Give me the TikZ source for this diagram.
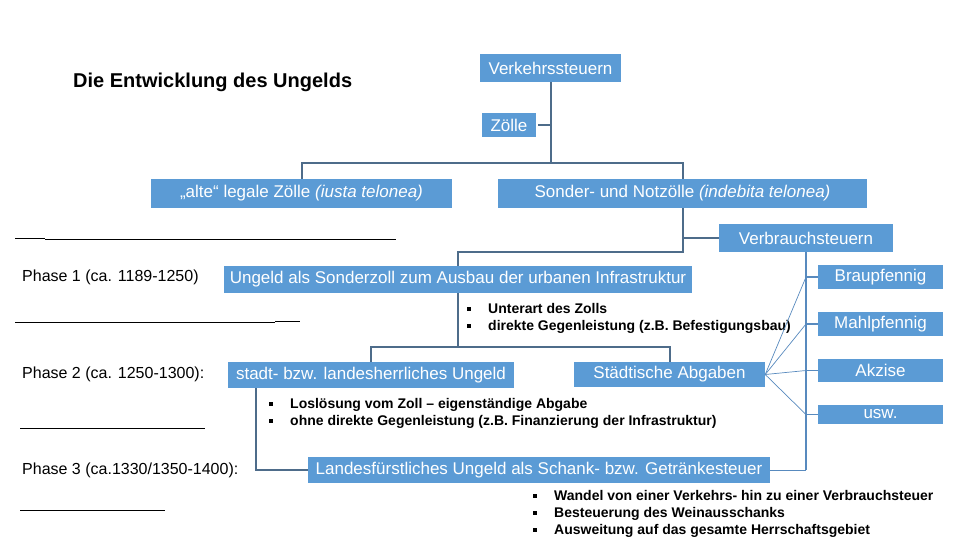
\documentclass[tikz,border=0pt]{standalone}
\usepackage{fontspec}
\setmainfont{Liberation Sans}
\usetikzlibrary{positioning,calc}
\definecolor{boxblue}{RGB}{91,155,213}
\definecolor{treeline}{RGB}{78,108,138}
\definecolor{sideline}{RGB}{88,138,190}
\newcommand{\bul}{\makebox[21pt][l]{\raisebox{2.5pt}{\rule{4pt}{4pt}}}}

\begin{document}
\begin{tikzpicture}[x=1pt,y=-1pt,
    box/.style={fill=boxblue,text=white,inner sep=0pt,font=\fontsize{17}{17}\selectfont},
    tree/.style={draw=treeline,line width=2pt},
    side/.style={draw=sideline,line width=1.6pt},
    fan/.style={draw=sideline,line width=0.7pt},
    phase/.style={anchor=west,inner sep=0pt,font=\fontsize{16}{16}\selectfont},
    notes/.style={anchor=west,inner sep=0pt,align=left,font=\bfseries\fontsize{14}{17}\selectfont},
    blank/.style={draw=black,line width=0.8pt}]
    \useasboundingbox (0,0) rectangle (960,540);
    \node[anchor=base west,inner sep=0pt,font=\bfseries\fontsize{20}{20}\selectfont] (title) at (73,88) {Die Entwicklung des Ungelds};
    % tree boxes
    \node[box,minimum width=141pt,minimum height=28pt] (verk) at (550.5,68) {Verkehrssteuern};
    \node[box,minimum width=54pt,minimum height=24pt] (zoll) at (509,125) {Zölle};
    \node[box,minimum width=301pt,minimum height=29pt] (alte) at (301.5,193.5) {„alte“ legale Zölle \textit{(iusta telonea)}};
    \node[box,minimum width=369pt,minimum height=29pt] (sonder) at (682.5,193.5) {Sonder- und Notzölle \textit{(indebita telonea)}};
    \node[box,minimum width=174pt,minimum height=28pt] (verbr) at (806,238) {Verbrauchsteuern};
    \node[box,minimum width=468pt,minimum height=27pt] (sonderzoll) at (458,279.5) {Ungeld als Sonderzoll zum Ausbau der urbanen Infrastruktur};
    \node[box,minimum width=286pt,minimum height=26pt] (stadt) at (371,375) {stadt- bzw. landesherrliches Ungeld};
    \node[box,minimum width=191pt,minimum height=25pt] (staedt) at (669.5,374.5) {Städtische Abgaben};
    \node[box,minimum width=462pt,minimum height=26pt] (landes) at (539,470) {Landesfürstliches Ungeld als Schank- bzw. Getränkesteuer};
    \foreach \n/\y/\h/\t in {brau/277/24/Braupfennig, mahl/324/24/Mahlpfennig, akz/370.5/23/Akzise, usw/414.5/19/usw.}{
      \node[box,minimum width=125pt,minimum height=\h pt] (\n) at (880.5,\y) {\t};
    }
    % phases
    \node[phase] (ph1) at (22,277) {Phase 1 (ca. 1189-1250)};
    \node[phase] (ph2) at (22,374) {Phase 2 (ca. 1250-1300):};
    \node[phase] (ph3) at (22,470) {Phase 3 (ca.1330/1350-1400):};
    \draw[blank] (15,238) -- (45,238); \draw[blank] (45,239) -- (396,239);
    \draw[blank] (15,322) -- (275,322); \draw[blank] (275,321) -- (300,321);
    \draw[blank] (20,428) -- (113,428); \draw[blank] (113,428) -- (205,428);
    \draw[blank] (20,510) -- (165,510);
    % notes
    \node[notes] (n1) at (467,318) {\bul Unterart des Zolls\\\bul direkte Gegenleistung (z.B. Befestigungsbau)};
    \node[notes] (n2) at (269,413) {\bul Loslösung vom Zoll – eigenständige Abgabe\\\bul ohne direkte Gegenleistung (z.B. Finanzierung der Infrastruktur)};
    \node[notes] (n3) at (533,513.5) {\bul Wandel von einer Verkehrs- hin zu einer Verbrauchsteuer\\\bul Besteuerung des Weinausschanks\\\bul Ausweitung auf das gesamte Herrschaftsgebiet};
    % connectors
    \coordinate (k1) at (550.5,163);
    \coordinate (k2) at (682.5,252);
    \coordinate (k3) at (458,347);
    \draw[tree] (verk.south) -- (k1);
    \draw[tree,shorten <=2pt] (zoll.east) -- (zoll.east -| k1);
    \draw[tree] (alte.north) |- (k1) -| (sonder.north);
    \draw[tree] (sonder.south) -- (k2) -| (sonderzoll.north);
    \draw[tree] (sonder.south |- verbr.west) -- (verbr.west);
    \draw[tree] (sonderzoll.south) -- (k3);
    \draw[tree] (stadt.north) |- (k3) -| (staedt.north);
    \draw[tree] (stadt.south -| 256,0) |- (landes.west);
    \draw[side] (verbr.south) -- (verbr.south |- landes.east);
    \draw[fan] (verbr.south |- landes.east) -- (landes.east);
    \foreach \n in {brau,mahl,akz,usw}{
      \draw[side] (\n.west -| verbr.south) -- (\n.west);
      \draw[fan] (staedt.east) -- (\n.west -| verbr.south);
    }
\end{tikzpicture}
\end{document}
